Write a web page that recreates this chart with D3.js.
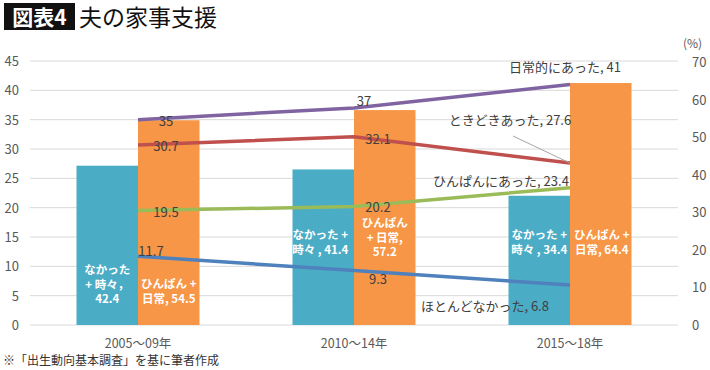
<!DOCTYPE html>
<html>
<head>
<meta charset="utf-8">
<script src="https://cdn.jsdelivr.net/npm/d3@7"></script>
<style>
  body { margin: 0; background: #fff; }
  svg { font-family: "Noto Sans CJK JP", "Noto Sans", sans-serif; }
</style>
</head>
<body>
<div id="vis"></div>
<script>
// data
const periods = ["2005～09年", "2010～14年", "2015～18年"];
const barNames = ["なかった＋時々", "ひんぱん＋日常"];
const barLow = [42.4, 41.4, 34.4];
const barHigh = [54.5, 57.2, 64.4];
const lineNames = ["日常的にあった", "ときどきあった", "ひんぱんにあった", "ほとんどなかった"];
const lineDaily = [35, 37, 41];
const lineSometimes = [30.7, 32.1, 27.6];
const lineOften = [19.5, 20.2, 23.4];
const lineRarely = [11.7, 9.3, 6.8];
const leftTicks = [0, 5, 10, 15, 20, 25, 30, 35, 40, 45];
const rightTicks = [0, 10, 20, 30, 40, 50, 60, 70];

const W = 710, H = 370;
const plot = { left: 30, right: 678, top: 61, bottom: 325 };

const svg = d3.select("#vis").append("svg").attr("width", W).attr("height", H);

// title
svg.append("rect").attr("x", 4).attr("y", 3).attr("width", 71).attr("height", 27).attr("fill", "#111");
svg.append("text").attr("x", 39.5).attr("y", 25).attr("text-anchor", "middle")
  .attr("fill", "#fff").attr("font-size", 21).attr("font-weight", "bold").text("図表4");
svg.append("text").attr("x", 79).attr("y", 26)
  .attr("fill", "#111").attr("font-size", 23).text("夫の家事支援");

const x = d3.scaleBand().domain(periods).range([plot.left, plot.right]);
const yL = d3.scaleLinear().domain([0, 45]).range([plot.bottom, plot.top]);
const yR = d3.scaleLinear().domain([0, 70]).range([plot.bottom, 62]);
const cx = p => x(p) + x.bandwidth() / 2;
const barW = 61.5;

// gridlines
svg.append("g").selectAll("line").data(leftTicks).join("line")
  .attr("x1", plot.left).attr("x2", plot.right)
  .attr("y1", d => yL(d)).attr("y2", d => yL(d))
  .attr("stroke", "#d9d9d9").attr("stroke-width", 1);

// axes
const axL = svg.append("g").attr("transform", `translate(${plot.left - 11},0)`)
  .call(d3.axisLeft(yL).tickValues(leftTicks).tickSize(0).tickPadding(0));
const axR = svg.append("g").attr("transform", `translate(${plot.right + 14},0)`)
  .call(d3.axisRight(yR).tickValues(rightTicks).tickSize(0).tickPadding(0));
const axX = svg.append("g").attr("transform", `translate(0,${plot.bottom + 4})`)
  .call(d3.axisBottom(x).tickSize(0).tickPadding(10));
[axL, axR, axX].forEach(a => {
  a.select(".domain").remove();
  a.selectAll("text").attr("fill", "#595959").attr("font-size", 13)
    .attr("font-family", "'Noto Sans CJK JP', 'Noto Sans', sans-serif");
});
axL.selectAll("text").attr("dy", "0.35em");
axR.selectAll("text").attr("dy", "0.35em");
axX.selectAll("text").attr("font-size", 12.5);
svg.append("text").attr("x", 683).attr("y", 48).attr("fill", "#595959")
  .attr("font-size", 12).text("(%)");

// bars
const bars = svg.append("g");
bars.selectAll("rect.low").data(periods).join("rect").attr("class", "low")
  .attr("x", d => cx(d) - barW).attr("width", barW)
  .attr("y", (d, i) => yR(barLow[i])).attr("height", (d, i) => yR(0) - yR(barLow[i]))
  .attr("fill", "#4BACC6");
bars.selectAll("rect.high").data(periods).join("rect").attr("class", "high")
  .attr("x", d => cx(d)).attr("width", barW)
  .attr("y", (d, i) => yR(barHigh[i])).attr("height", (d, i) => yR(0) - yR(barHigh[i]))
  .attr("fill", "#F79646");

// bar labels (line splits and offsets as in the reference)
const barLabels = [
  { i: 0, side: -1, dx: 0, y0: 274, lines: ["なかった", "+ 時々，", `${barLow[0]}`] },
  { i: 0, side: 1, dx: 0, y0: 288, lines: ["ひんぱん +", `日常, ${barHigh[0]}`] },
  { i: 1, side: -1, dx: -3, y0: 239, lines: ["なかった +", `時々 , ${barLow[1]}`] },
  { i: 1, side: 1, dx: 0, y0: 227, lines: ["ひんぱん", "+ 日常,", `${barHigh[1]}`] },
  { i: 2, side: -1, dx: 0, y0: 239, lines: ["なかった +", `時々 , ${barLow[2]}`] },
  { i: 2, side: 1, dx: 1, y0: 239, lines: ["ひんぱん +", `日常, ${barHigh[2]}`] }
];
barLabels.forEach(b => {
  const bx = cx(periods[b.i]) + b.side * barW / 2 + b.dx;
  const t = svg.append("text").attr("x", bx)
    .attr("text-anchor", "middle").attr("fill", "#fff")
    .attr("font-size", 11.5).attr("font-weight", "bold");
  b.lines.forEach((l, k) => t.append("tspan")
    .attr("x", bx).attr("y", b.y0 + k * 14.5).text(l));
});

// lines
const series = [
  { name: lineNames[0], vals: lineDaily, color: "#8064A2" },
  { name: lineNames[1], vals: lineSometimes, color: "#C0504D" },
  { name: lineNames[2], vals: lineOften, color: "#9BBB59" },
  { name: lineNames[3], vals: lineRarely, color: "#4F81BD" }
];
const line = d3.line().x((d, i) => cx(periods[i])).y(d => yL(d));
svg.append("g").selectAll("path").data(series).join("path")
  .attr("d", d => line(d.vals)).attr("fill", "none")
  .attr("stroke", d => d.color).attr("stroke-width", 3.5);

// leader line for ときどきあった
svg.append("line")
  .attr("x1", 513).attr("y1", 136)
  .attr("x2", cx(periods[2])).attr("y2", yL(lineSometimes[2]))
  .attr("stroke", "#a6a6a6").attr("stroke-width", 1);

// line value labels: [dx, dy] per point, text centred
const labelPos = [
  [[28, 6], [10, -2], [-5, -12]],
  [[28, 6], [24, 7], [-60, -38]],
  [[28, 6], [24, 6], [-69, -2]],
  [[13, 0], [24, 14], [-85, 26]]
];
series.forEach((s, si) => {
  s.vals.forEach((v, i) => {
    const [dx, dy] = labelPos[si][i];
    svg.append("text")
      .attr("x", cx(periods[i]) + dx).attr("y", yL(v) + dy)
      .attr("text-anchor", "middle").attr("fill", "#404040").attr("font-size", 13)
      .text(i === 2 ? `${s.name}, ${v}` : `${v}`);
  });
});

// footnote
svg.append("text").attr("x", 3).attr("y", 365).attr("fill", "#333")
  .attr("font-size", 12).text("※「出生動向基本調査」を基に筆者作成");
</script>
</body>
</html>
